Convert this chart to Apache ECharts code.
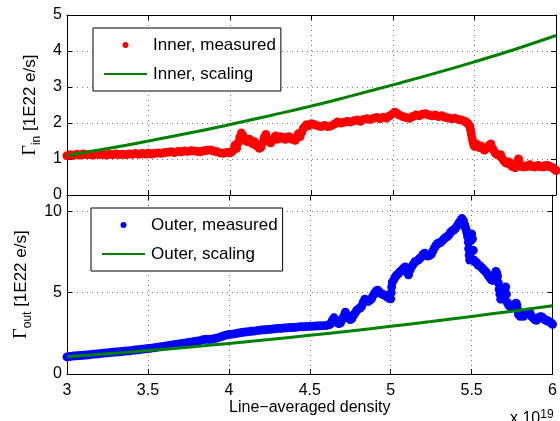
<!DOCTYPE html>
<html>
<head>
<meta charset="utf-8">
<script src="https://cdn.jsdelivr.net/npm/echarts@6/dist/echarts.min.js"></script>
<style>html,body{margin:0;padding:0;background:#fff}#c{width:560px;height:421px}</style>
</head>
<body>
<div id="c"></div>
<script>
// x values in units of 1e19
const innerX = [3.00,3.02,3.04,3.06,3.08,3.10,3.12,3.14,3.16,3.18,3.20,3.22,3.24,3.26,3.28,3.30,3.32,3.34,3.36,3.38,3.40,3.42,3.44,3.46,3.48,3.50,3.52,3.54,3.56,3.58,3.60,3.62,3.64,3.66,3.68,3.70,3.72,3.74,3.76,3.78,3.80,3.82,3.84,3.86,3.88,3.90,3.92,3.94,3.96,3.98,4.00,
4.01,4.02,4.03,4.04,4.05,4.06,4.07,4.08,4.09,4.10,4.11,4.12,4.13,4.14,4.15,4.16,4.17,4.18,4.19,4.20,4.21,4.22,4.23,4.24,4.25,4.26,4.27,4.28,4.29,4.30,4.31,4.32,4.33,4.34,4.35,4.36,4.37,4.38,4.40,4.41,4.42,4.43,4.44,4.45,4.46,4.47,4.48,4.50,4.52,4.54,4.56,4.58,4.60,4.62,4.64,4.66,4.68,4.70,4.72,4.74,4.76,4.78,4.80,4.82,4.84,4.86,4.88,4.90,4.92,4.94,4.96,4.98,5.00,5.01,5.02,5.04,5.06,5.08,5.10,5.12,5.14,5.16,5.18,5.20,5.22,5.24,5.26,5.28,5.30,5.32,5.34,5.36,5.38,5.40,5.42,5.44,5.45,5.46,5.47,5.475,5.48,5.485,5.49,5.495,5.50,5.51,5.52,5.53,5.54,5.55,5.56,5.57,5.58,5.59,5.60,5.61,5.62,5.63,5.64,5.65,5.66,5.67,5.68,5.69,5.70,5.71,5.72,5.73,5.74,5.75,5.76,5.765,5.77,5.775,5.78,5.79,5.80,5.81,5.82,5.83,5.84,5.85,5.86,5.87,5.88,5.89,5.90,5.91,5.92,5.93,5.94,5.95,5.96,5.97,5.98,5.99,6.00];
const innerY = [1.09,1.12,1.10,1.13,1.11,1.14,1.12,1.13,1.11,1.14,1.12,1.13,1.11,1.13,1.12,1.14,1.12,1.13,1.12,1.14,1.13,1.15,1.13,1.15,1.14,1.16,1.14,1.16,1.17,1.16,1.18,1.19,1.20,1.18,1.21,1.20,1.22,1.21,1.23,1.22,1.21,1.20,1.23,1.24,1.25,1.22,1.20,1.17,1.16,1.18,1.17,
1.20,1.25,1.38,1.30,1.45,1.60,1.72,1.65,1.55,1.50,1.48,1.55,1.50,1.42,1.48,1.38,1.35,1.30,1.33,1.45,1.60,1.68,1.55,1.48,1.45,1.52,1.58,1.64,1.55,1.58,1.62,1.58,1.60,1.55,1.58,1.62,1.60,1.55,1.52,1.60,1.70,1.62,1.75,1.85,1.90,1.95,1.92,1.98,1.95,1.92,1.90,1.93,1.90,1.92,1.97,2.03,2.00,2.02,2.04,2.03,2.06,2.08,2.05,2.10,2.12,2.10,2.13,2.15,2.12,2.16,2.14,2.20,2.26,2.30,2.28,2.22,2.18,2.15,2.13,2.18,2.22,2.20,2.24,2.26,2.22,2.20,2.22,2.18,2.20,2.16,2.14,2.12,2.13,2.10,2.08,2.05,2.02,1.98,1.92,1.82,1.70,1.58,1.48,1.40,1.35,1.42,1.38,1.32,1.36,1.30,1.25,1.28,1.32,1.38,1.42,1.30,1.22,1.15,1.12,1.10,1.12,1.02,0.95,0.90,0.88,0.92,0.86,0.80,0.78,0.76,0.80,0.95,1.00,0.90,0.82,0.80,0.78,0.80,0.79,0.82,0.84,0.80,0.79,0.78,0.80,0.82,0.80,0.79,0.78,0.81,0.80,0.82,0.79,0.78,0.76,0.72,0.68];

const outerX = [3.00,3.02,3.04,3.06,3.08,3.10,3.12,3.14,3.16,3.18,3.20,3.22,3.24,3.26,3.28,3.30,3.32,3.34,3.36,3.38,3.40,3.42,3.44,3.46,3.48,3.50,3.52,3.54,3.56,3.58,3.60,3.62,3.64,3.66,3.68,3.70,3.72,3.74,3.76,3.78,3.80,3.82,3.84,3.86,3.88,3.90,3.92,3.94,3.96,3.98,4.00,4.02,4.04,4.06,4.08,4.10,4.12,4.14,4.16,4.18,4.20,4.22,4.24,4.26,4.28,4.30,4.32,4.34,4.36,4.38,4.40,4.42,4.44,4.46,4.48,4.50,4.52,4.54,4.56,4.58,4.60,4.62,4.63,4.64,4.65,4.66,4.67,4.68,4.69,4.70,4.71,4.72,4.73,4.74,4.75,4.76,4.77,4.78,4.79,4.80,4.81,4.82,4.83,4.84,4.85,4.86,4.87,4.88,4.89,4.90,4.91,4.92,4.93,4.94,4.95,4.96,4.97,4.98,4.99,5.00,5.003,5.006,5.01,5.02,5.03,5.04,5.05,5.06,5.07,5.08,5.09,5.10,5.11,5.12,5.13,5.14,5.15,5.16,5.17,5.18,5.19,5.20,5.21,5.22,5.23,5.24,5.25,5.26,5.27,5.28,5.29,5.30,5.31,5.32,5.33,5.34,5.35,5.36,5.37,5.38,5.39,5.40,5.41,5.42,5.43,5.44,5.45,5.455,5.46,5.465,5.47,5.475,5.48,5.482,5.485,5.488,5.49,5.495,5.50,5.505,5.51,5.515,5.52,5.53,5.54,5.55,5.56,5.57,5.58,5.59,5.60,5.61,5.62,5.63,5.64,5.65,5.655,5.66,5.665,5.67,5.675,5.68,5.69,5.70,5.705,5.71,5.715,5.72,5.73,5.74,5.75,5.76,5.77,5.775,5.78,5.785,5.79,5.80,5.81,5.82,5.83,5.84,5.85,5.86,5.87,5.88,5.89,5.90,5.91,5.92,5.93,5.94,5.95,5.96,5.97,5.98,5.99,6.00];
const outerY = [1.05,1.08,1.10,1.12,1.13,1.15,1.17,1.19,1.22,1.23,1.25,1.28,1.29,1.31,1.33,1.35,1.37,1.38,1.41,1.42,1.45,1.47,1.49,1.52,1.54,1.57,1.59,1.62,1.65,1.67,1.70,1.73,1.76,1.80,1.83,1.86,1.89,1.92,1.95,1.98,2.02,2.05,2.10,2.14,2.12,2.15,2.20,2.25,2.32,2.38,2.42,2.45,2.48,2.52,2.55,2.58,2.60,2.62,2.65,2.68,2.70,2.72,2.74,2.75,2.78,2.80,2.80,2.82,2.84,2.85,2.86,2.88,2.90,2.90,2.92,2.93,2.94,2.95,2.96,2.97,2.98,3.02,3.10,3.30,3.45,3.30,3.15,3.10,3.15,3.35,3.55,3.80,3.65,3.45,3.35,3.40,3.60,3.75,3.90,4.00,4.05,4.15,4.40,4.60,4.50,4.45,4.55,4.60,4.80,4.95,5.10,5.15,5.05,4.95,4.90,4.85,4.80,4.72,4.65,4.62,5.00,5.35,5.65,5.80,6.00,6.10,6.20,6.30,6.40,6.50,6.58,6.30,6.10,6.40,6.60,6.75,6.90,6.95,7.00,7.10,7.20,7.35,7.42,7.30,7.25,7.30,7.35,7.55,7.75,7.90,8.02,8.05,8.10,8.20,8.30,8.40,8.45,8.55,8.70,8.80,8.85,8.95,9.10,9.25,9.40,9.55,9.40,9.20,9.05,8.90,8.70,8.45,8.10,7.70,7.30,7.00,7.40,8.20,8.60,8.30,7.60,7.00,6.90,6.85,6.70,6.65,6.55,6.45,6.35,6.25,6.10,5.95,5.80,5.75,5.95,6.30,6.20,6.00,5.60,5.20,4.90,4.60,4.70,4.95,5.20,5.35,4.90,4.40,4.20,4.15,4.20,4.25,4.30,4.35,4.20,3.90,3.65,3.55,3.60,3.55,3.65,3.75,3.80,3.75,3.55,3.45,3.35,3.30,3.40,3.50,3.52,3.45,3.35,3.30,3.25,3.22,3.15,3.05];

const scaleX = [3.00,3.25,3.50,3.75,4.00,4.25,4.50,4.75,5.00,5.25,5.50,5.75,6.00];
const innerScale = [1.10,1.29,1.50,1.72,1.96,2.21,2.47,2.76,3.06,3.37,3.70,4.05,4.43];
const outerScale = [1.06,1.25,1.44,1.65,1.88,2.12,2.38,2.64,2.93,3.23,3.54,3.86,4.19];

const legendNames = ['Inner, measured','Inner, scaling','Outer, measured','Outer, scaling'];

const zip = (a,b) => a.map((v,i)=>[v,b[i]]);
const FONT = 'Liberation Sans, Arial, sans-serif';
const grid = {lineStyle:{color:'#777', type:[1,4], width:1}};

function xAx(gi, pos, showLabel, name){
  return {type:'value', gridIndex:gi, position:pos, min:3, max:6, interval:0.5,
    axisLine:{show:true, onZero:false, lineStyle:{color:'#000', width:1}},
    axisTick:{show:true, inside:true, length:5, lineStyle:{color:'#000'}},
    axisLabel:{show:showLabel, fontSize:16, color:'#000', fontFamily:FONT, margin:9},
    splitLine: pos==='bottom' ? {show:true, ...grid} : {show:false},
    name: name||'', nameLocation:'middle', nameGap:25,
    nameTextStyle:{fontSize:16, color:'#000', fontFamily:FONT}};
}
function yAx(gi, pos, max, interval, name){
  const left = pos==='left';
  return {type:'value', gridIndex:gi, position:pos, min:0, max:max, interval:interval,
    axisLine:{show:true, onZero:false, lineStyle:{color:'#000', width:1}},
    axisTick:{show:true, inside:true, length:5, lineStyle:{color:'#000'}},
    axisLabel:{show:left, fontSize:16, color:'#000', fontFamily:FONT, margin:5, showMaxLabel: max===5},
    splitLine: left ? {show:true, ...grid} : {show:false},
    name: left ? name : '', nameLocation:'middle', nameRotate:90, nameGap:24,
    nameTextStyle:{fontSize:17, color:'#000', fontFamily:FONT, lineHeight:24,
      rich:{
        g:{fontSize:18, fontFamily:'Liberation Serif, serif', color:'#000', lineHeight:24, verticalAlign:'middle'},
        s:{fontSize:12, fontFamily:FONT, color:'#000', lineHeight:24, verticalAlign:'bottom'},
        t:{fontSize:17, fontFamily:FONT, color:'#000', lineHeight:24, verticalAlign:'middle'}
      }}};
}

const chart = echarts.init(document.getElementById('c'), null, {renderer:'canvas'});
const legendBase = {orient:'vertical', itemWidth:43, itemHeight:6, itemGap:9,
  borderColor:'#000', borderWidth:1, backgroundColor:'#fff', borderRadius:0,
  padding:[7,5,7,10], textStyle:{fontSize:17, color:'#000', fontFamily:FONT, lineHeight:20, padding:[0,0,0,1]},
  selectedMode:false};

chart.setOption({
  animation:false,
  grid:[{left:67, top:15, width:489, height:180},{left:67, top:195, width:489, height:179}],
  xAxis:[xAx(0,'bottom',false), xAx(0,'top',false), xAx(1,'bottom',true,'Line\u2212averaged density'), xAx(1,'top',false)],
  yAxis:[yAx(0,'left',5,1,'{g|\u0393}{s|in}{t| [1E22 e/s]}'), yAx(0,'right',5,1), yAx(1,'left',11,5,'{g|\u0393}{s|out}{t| [1E22 e/s]}'), yAx(1,'right',11,5)],
  legend:[
    {...legendBase, left:93, top:28, data:[{name:legendNames[0]}, {name:legendNames[1], itemStyle:{opacity:0}}]},
    {...legendBase, left:91, top:208, data:[{name:legendNames[2]}, {name:legendNames[3], itemStyle:{opacity:0}}]}
  ],
  series:[
    {name:legendNames[0], type:'scatter', xAxisIndex:0, yAxisIndex:0, data:zip(innerX,innerY), symbol:'circle', symbolSize:9, itemStyle:{color:'#ff0000', opacity:1}},
    {name:legendNames[1], type:'line', xAxisIndex:0, yAxisIndex:0, data:zip(scaleX,innerScale), symbol:'none', smooth:true, lineStyle:{color:'#008000', width:3}, itemStyle:{color:'#008000'}},
    {name:legendNames[2], type:'scatter', xAxisIndex:2, yAxisIndex:2, data:zip(outerX,outerY), symbol:'circle', symbolSize:9, itemStyle:{color:'#0000ff', opacity:1}},
    {name:legendNames[3], type:'line', xAxisIndex:2, yAxisIndex:2, data:zip(scaleX,outerScale), symbol:'none', smooth:true, lineStyle:{color:'#008000', width:3}, itemStyle:{color:'#008000'}}
  ],
  graphic:[{type:'text', left:510, top:409, style:{text:'x 10{s|19}', fontSize:16, fontFamily:FONT, fill:'#000',
    rich:{s:{fontSize:12, fontFamily:FONT, fill:'#000', verticalAlign:'top', padding:[0,0,8,0]}}}}]
});
</script>
</body>
</html>
